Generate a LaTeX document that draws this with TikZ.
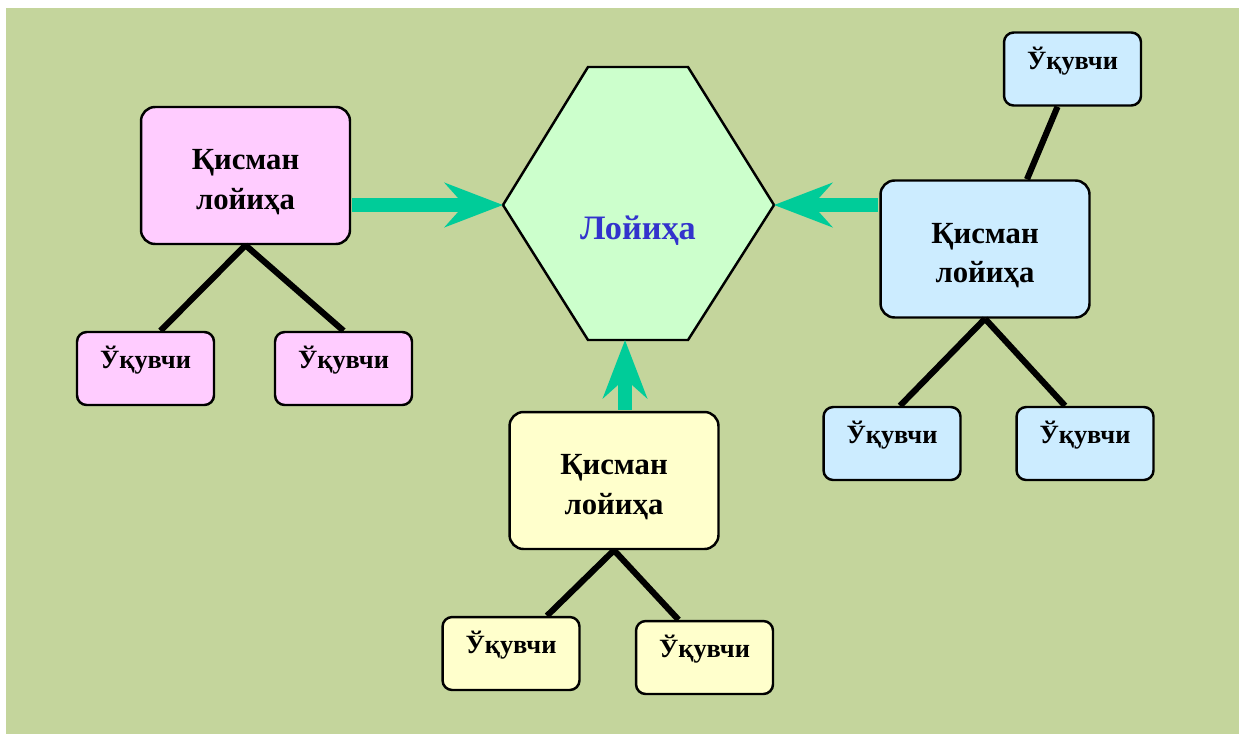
\documentclass[tikz,border=0pt]{standalone}
\usepackage{fontspec}
\setmainfont{Liberation Serif}
\usetikzlibrary{arrows.meta}
\definecolor{bggreen}{RGB}{196,213,156}
\definecolor{partpink}{RGB}{255,204,255}
\definecolor{partblue}{RGB}{204,236,255}
\definecolor{partyellow}{RGB}{255,255,204}
\definecolor{projgreen}{RGB}{204,255,204}
\definecolor{flowgreen}{RGB}{0,204,153}
\definecolor{projtext}{RGB}{51,51,204}
\newcommand{\subprojtext}{\raisebox{-3.4pt}[\height][\depth]{\begin{tabular}{@{}c@{}}Қисман\\лойиҳа\end{tabular}}}

\begin{document}
\begin{tikzpicture}[x=0.02cm, y=-0.02cm,
	part/.style={draw=black, line width=1.4pt, rounded corners=8pt, minimum width=4.18cm, minimum height=2.74cm, font=\bfseries\fontsize{17.5}{22.7}\selectfont},
	pupil/.style={draw=black, line width=1.4pt, rounded corners=5.5pt, minimum width=2.74cm, minimum height=1.46cm, text height=8pt, text depth=8pt, font=\bfseries\fontsize{15}{18}\selectfont},
	link/.style={line width=3.5pt},
	flow/.style={draw=flowgreen, line width=8.5pt, shorten <=0.7pt, -{Stealth[length=33pt, width=25pt, inset=11pt]}}]
			\fill[bggreen] (6, 8) rectangle (1239, 734);
			\useasboundingbox (0, 0) rectangle (1239, 734);

			% the project in the middle
			\coordinate (hexL) at (503, 205);
			\coordinate (hexTL) at (588, 67);
			\coordinate (hexTR) at (688, 67);
			\coordinate (hexR) at (774, 205);
			\coordinate (hexBR) at (688, 340);
			\coordinate (hexBL) at (588, 340);
			\coordinate (hexB) at (625, 340);
			\filldraw [draw=black, fill=projgreen, line width=1.4pt] (hexL) -- (hexTL) -- (hexTR) -- (hexR) -- (hexBR) -- (hexBL) -- cycle;
			\node (proj) at (638, 231) [text=projtext, font=\bfseries\fontsize{19.5}{24}\selectfont] {Лойиҳа};

			% partial projects
			\node (partL) at (245.5, 175.5) [part, fill=partpink] {\subprojtext};
			\node (partB) at (614, 480.5) [part, fill=partyellow] {\subprojtext};
			\node (partR) at (985, 249) [part, fill=partblue] {\subprojtext};

			% pupils
			\node (stuL1) at (145.5, 368.5) [pupil, fill=partpink] {Ўқувчи};
			\node (stuL2) at (343.5, 368.5) [pupil, fill=partpink] {Ўқувчи};
			\node (stuB1) at (511, 653.5) [pupil, fill=partyellow] {Ўқувчи};
			\node (stuB2) at (704.5, 657.5) [pupil, fill=partyellow] {Ўқувчи};
			\node (stuR0) at (1072.5, 69) [pupil, fill=partblue] {Ўқувчи};
			\node (stuR1) at (892, 443.5) [pupil, fill=partblue] {Ўқувчи};
			\node (stuR2) at (1085, 443.5) [pupil, fill=partblue] {Ўқувчи};

			\draw [link] (partL.south) -- ([xshift=0.3cm]stuL1.north);
			\draw [link] (partL.south) -- (stuL2.north);
			\draw [link] (partB.south) -- ([xshift=0.72cm]stuB1.north);
			\draw [link] (partB.south) -- ([xshift=-0.52cm]stuB2.north);
			\draw [link] ([xshift=-0.3cm]stuR0.south) -- ([xshift=0.84cm]partR.north);
			\draw [link] (partR.south) -- ([xshift=0.16cm]stuR1.north);
			\draw [link] (partR.south) -- ([xshift=-0.4cm]stuR2.north);

			\draw [flow] (partL.east |- hexL) -- (hexL);
			\draw [flow] (partR.west |- hexR) -- (hexR);
			\draw [flow] (hexB |- partB.north) -- (hexB);
		\end{tikzpicture}
\end{document}
